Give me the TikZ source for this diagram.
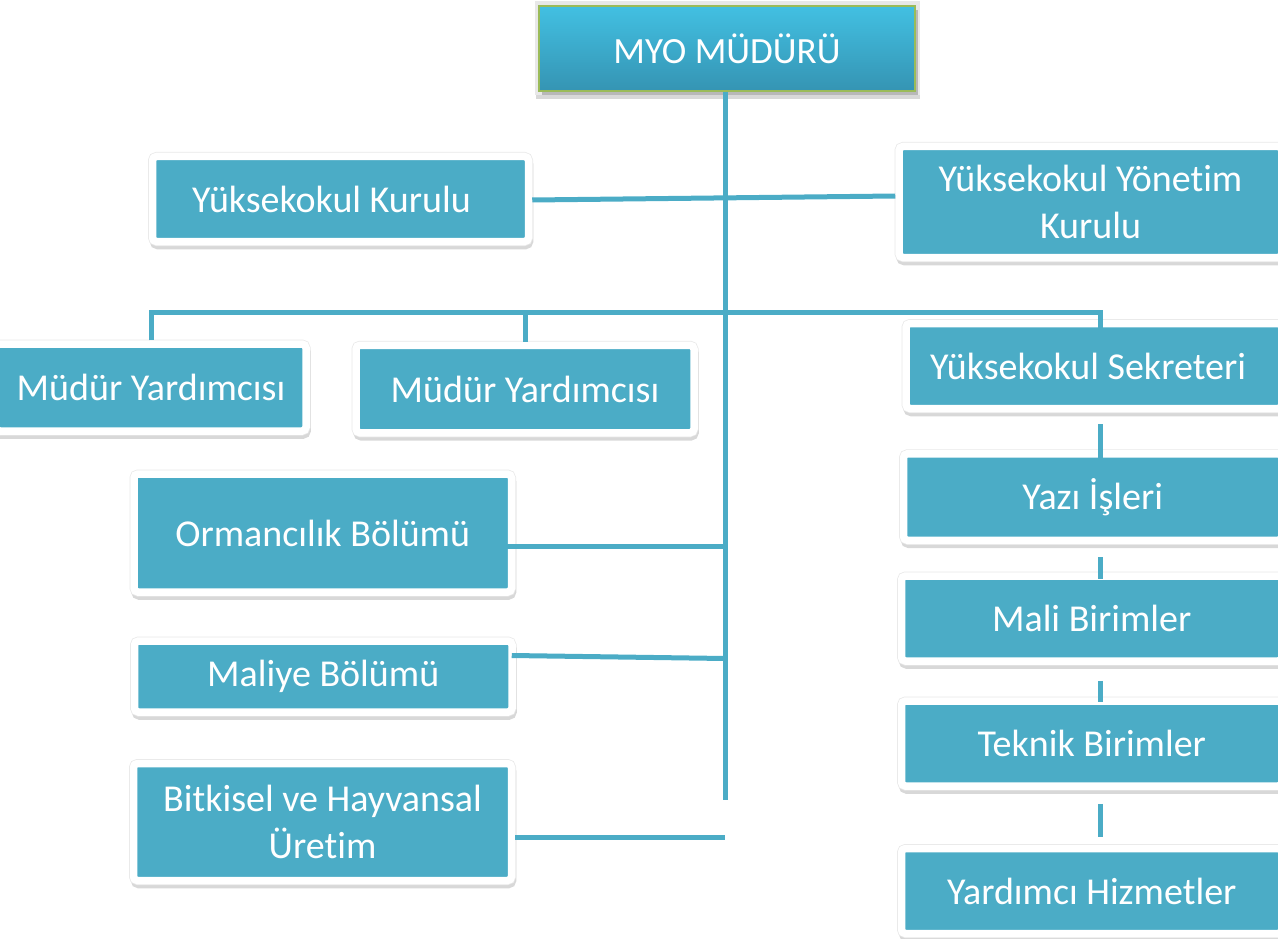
\documentclass[tikz,border=0pt]{standalone}
\usepackage{fontspec}
\setmainfont{Carlito}[Ligatures=NoCommon]
\usetikzlibrary{shadows,calc}

\definecolor{aqua}{HTML}{4BACC6}
\definecolor{aquatop}{HTML}{42C0E2}
\definecolor{aquabot}{HTML}{3594B3}
\definecolor{olive}{HTML}{9BBB59}

\begin{document}
\begin{tikzpicture}[x=1pt,y=-1pt,
    box/.style={draw=white, line width=7.5pt, rounded corners=4pt, fill=aqua,
        text=white, font=\fontsize{38}{47}\selectfont, align=center, inner sep=0pt,
        drop shadow={shadow xshift=1pt, shadow yshift=-4pt, opacity=0.22,
            fill=black!70, draw=black!70, line width=7.5pt},
        preaction={draw=black!9, line width=9pt}},
    headbox/.style={box, draw=olive, line width=2pt, rounded corners=0pt,
        font=\fontsize{37}{47}\selectfont,
        top color=aquatop, bottom color=aquabot,
        drop shadow={shadow xshift=3pt, shadow yshift=-4pt, opacity=0.3, fill=black!70}},
    conn/.style={draw=aqua, line width=5pt}]
    \useasboundingbox (0,0) rectangle (1278,939);
    \clip (0,0) rectangle (1278,939);

    % top of the tree
    \node[headbox, minimum width=376pt, minimum height=85pt] (myo) at (727,48.5) {MYO MÜDÜRÜ};

    % boards
    \node[box, minimum width=376pt, minimum height=85pt] (kurul) at (340.5,199) {Yüksekokul Kurulu\hspace*{18pt}};
    \node[box, minimum width=383pt, minimum height=111pt] (ykurul) at (1090.5,202) {Yüksekokul Yönetim\\Kurulu};

    % deputies and secretary
    \node[box, minimum width=310pt, minimum height=87pt] (myd1) at (151,387.5) {Müdür Yardımcısı};
    \node[box, minimum width=338pt, minimum height=87.5pt] (myd2) at (525,389) {Müdür Yardımcısı};
    \node[box, minimum width=376pt, minimum height=85pt] (sek) at (1094,366) {Yüksekokul Sekreteri\hspace*{12pt}};

    % units under the secretary
    \node[box, minimum width=378.5pt, minimum height=86.5pt] (yazi) at (1092.75,497) {Yazı İşleri};
    \node[box, minimum width=380.5pt, minimum height=85pt] (mali) at (1091.75,618.5) {Mali Birimler};
    \node[box, minimum width=380.5pt, minimum height=85pt] (teknik) at (1091.75,743.5) {Teknik Birimler};
    \node[box, minimum width=380.5pt, minimum height=85pt] (yardimci) at (1091.75,891) {Yardımcı Hizmetler};

    % departments
    \node[box, minimum width=377.5pt, minimum height=118pt] (orm) at (322.75,533) {Ormancılık Bölümü};
    \node[box, minimum width=377.5pt, minimum height=71pt] (maliye) at (323.25,676.5) {Maliye Bölümü};
    \node[box, minimum width=378pt, minimum height=117pt] (bitki) at (322.5,822) {Bitkisel ve Hayvansal\\Üretim};

    % connectors
    \coordinate (top) at (725,312);
    \coordinate (tend) at (725,800);
    \coordinate (rx) at (1100,0);

    \draw[conn] (myo.south -| tend) -- (tend);
    \draw[conn] ($(kurul.east)+(0,1)$) -- ($(ykurul.west)+(0,-6)$);
    \draw[conn] (myd1.north) |- (top) -| ($(sek.north -| rx)+(0,14)$);
    \draw[conn] (myd2.north) -- (myd2.north |- top);

    \foreach \a/\b/\s/\e in {sek/yazi/12/8, yazi/mali/13/7, mali/teknik/16/5, teknik/yardimci/14/-8}
        \draw[conn] ($(\a.south -| rx)+(0,\s)$) -- ($(\b.north -| rx)+(0,\e)$);

    \draw[conn] ($(orm.east)+(-33,13)$) -- ($(orm.east -| tend)+(0,13)$);
    \draw[conn] ($(maliye.east)+(-4,-21)$) -- ($(maliye.east -| tend)+(0,-18)$);
    \draw[conn] ($(bitki.east)+(0,15)$) -- ($(bitki.east -| tend)+(0,15)$);
\end{tikzpicture}
\end{document}
